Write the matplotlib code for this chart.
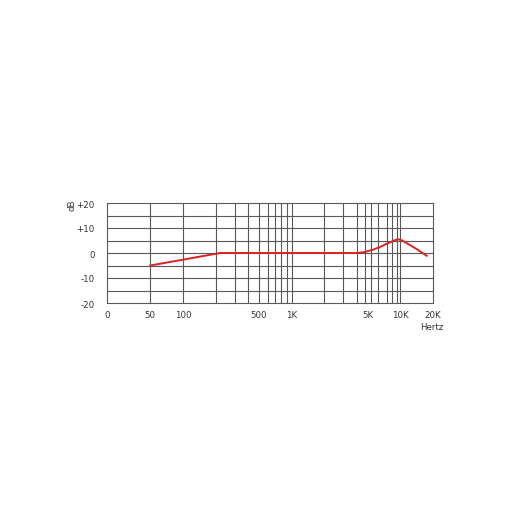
import matplotlib
matplotlib.use("Agg")
import matplotlib.pyplot as plt

# --- data ---
curve_freq = [50, 220, 3960, 4600, 5600, 6500, 7500, 8900, 9600, 10300,
              11400, 14100, 17500]
curve_db = [-5.0, 0.0, 0.0, 0.3, 1.3, 2.4, 3.7, 5.1, 5.5, 5.1,
            4.0, 1.6, -1.1]

grid_freq = [50, 100, 200, 300, 400, 500, 600, 700, 800, 900, 1000,
             2000, 3000, 4000, 4700, 5400, 6300, 7500, 8400, 9300, 10000]
grid_db = [-15, -10, -5, 0, 5, 10, 15]

xtick_freq = [20, 50, 100, 500, 1000, 5000, 10000, 20000]
xtick_labels = ["0", "50", "100", "500", "1K", "5K", "10K", "20K"]
ytick_vals = [-20, -10, 0, 10, 20]
ytick_labels = ["-20", "-10", "0", "+10", "+20"]

fig = plt.figure(figsize=(5.1, 5.1), dpi=100)
ax = fig.add_axes([107 / 510, 1 - 304 / 510, 326 / 510, 100 / 510])
ax.set_xscale("log")
ax.set_xlim(20, 20000)
ax.set_ylim(-20, 20)

gcol = "#5a5a5a"
for f in grid_freq:
    ax.axvline(f, color=gcol, lw=0.8, zorder=1)
for d in grid_db:
    ax.axhline(d, color=gcol, lw=0.8, zorder=1)
for s in ax.spines.values():
    s.set_color(gcol)
    s.set_linewidth(0.8)

ax.plot(curve_freq, curve_db, color="#d92323", lw=1.4, zorder=3,
        solid_joinstyle="round")

ax.set_xticks(xtick_freq)
ax.set_xticklabels(xtick_labels)
ax.xaxis.set_minor_locator(matplotlib.ticker.NullLocator())
ax.set_yticks(ytick_vals)
ax.set_yticklabels(ytick_labels)
ax.tick_params(axis="both", length=0, labelsize=6.2, colors="#333333")
ax.tick_params(axis="x", pad=5)
ax.tick_params(axis="y", pad=9)

fig.text(72 / 510, 1 - 205 / 510, "dB", rotation=90, ha="center", va="center",
         fontsize=6.2, color="#333333")
fig.text(432 / 510, 1 - 327 / 510, "Hertz", ha="center", va="center",
         fontsize=6.2, color="#333333")

fig.savefig("out.png", dpi=100, facecolor="white")
